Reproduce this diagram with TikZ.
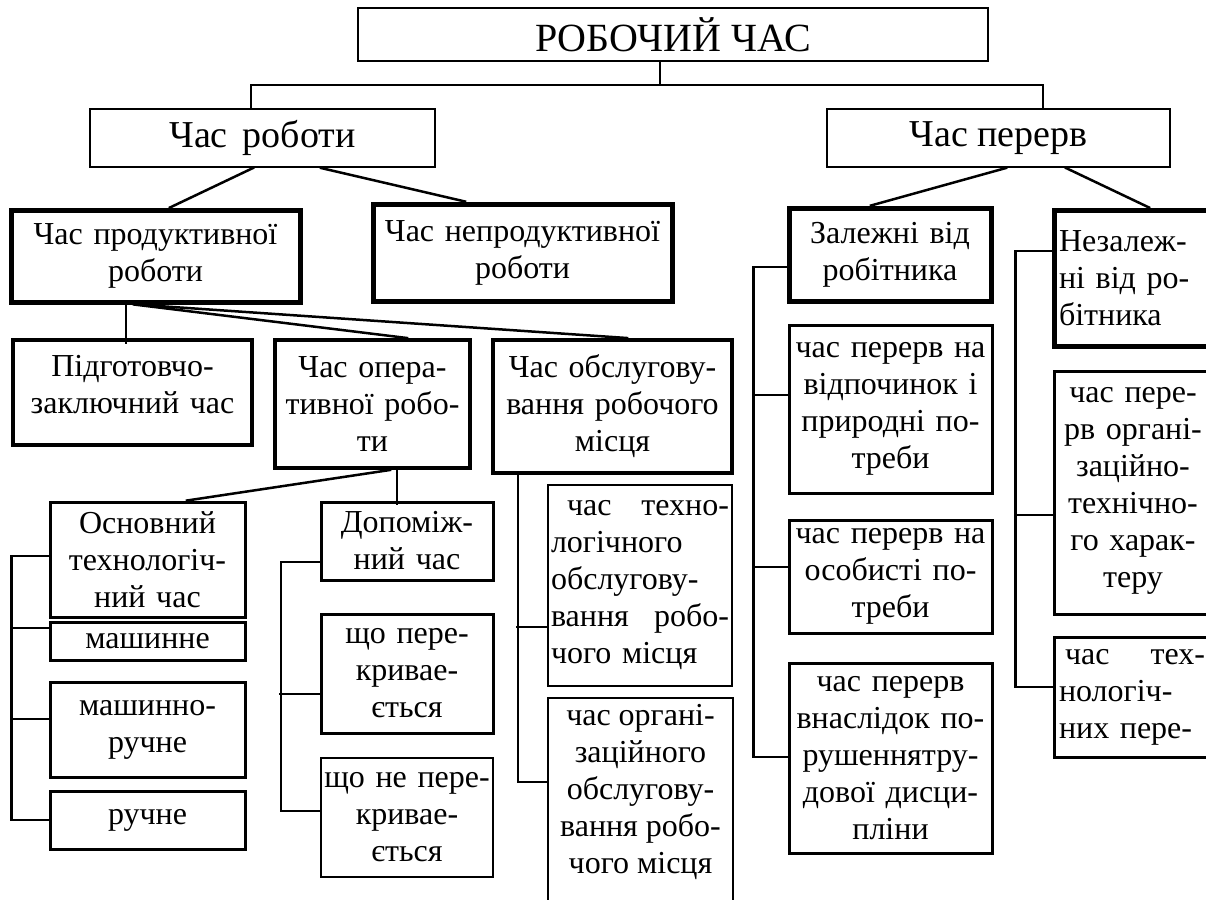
\documentclass[tikz,border=0pt]{standalone}
\usepackage{fontspec}
\setmainfont{Liberation Serif}
\begin{document}
\begin{tikzpicture}[x=1pt,y=-1pt,
  bx/.style={draw, rectangle, inner sep=0pt, align=center, line width=3pt,
    font=\fontsize{32}{37}\selectfont},
  lwa/.style={line width=2pt},
  lwd/.style={line width=4pt},
  lwe/.style={line width=5pt},
  big/.style={font=\fontsize{38}{44}\selectfont},
  bigger/.style={font=\fontsize{40}{46}\selectfont},
  conn/.style={line width=2.5pt, line cap=rect}]
\fill[white] (0,0) rectangle (1206,899);
\useasboundingbox (0,0) rectangle (1206,899);

% level 0-1
\node[bx,lwa,bigger,minimum width=630pt,minimum height=53pt] (top) at (673,34.5) {РОБОЧИЙ ЧАС};
\node[bx,lwa,big,minimum width=345pt,minimum height=58pt] (rob) at (262.5,138) {Час\hspace{0.4em}роботи};
\node[bx,lwa,big,minimum width=343pt,minimum height=58pt] (per) at (998.5,138) {Час перерв};

% level 2
\node[bx,lwe,minimum width=289pt,minimum height=92pt,text width=280pt] (prod) at (155.5,256) {Час продуктивної\\роботи};
\node[bx,lwe,minimum width=299pt,minimum height=97pt,text width=295pt] (neprod) at (522.5,252.5) {Час непродуктивної\\роботи};
\node[bx,lwe,minimum width=202pt,minimum height=93pt,text width=195pt] (zal) at (890,254.5) {Залежні від\\робітника};
\node[bx,lwe,align=left,minimum width=158pt,minimum height=136pt,text width=148pt] (nezal) at (1133,278) {Незалеж-\\ні від ро-\\бітника};

% level 3
\node[bx,lwd,minimum width=239pt,minimum height=105pt,text width=230pt] (pidg) at (132.5,392.5) {Підготовчо-\\заключний час\\[-20pt]\mbox{}};
\node[bx,lwd,minimum width=195pt,minimum height=128pt,text width=190pt] (oper) at (372.5,404) {Час опера-\\тивної робо-\\ти};
\node[bx,lwd,minimum width=239pt,minimum height=133pt,text width=232pt] (obsl) at (612.5,406.5) {Час обслугову-\\вання робочого\\місця};

% left column
\node[bx,minimum width=195pt,minimum height=115pt,text width=190pt] (osn) at (147.5,559.5) {Основний\\технологіч-\\ний час};
\node[bx,minimum width=195pt,minimum height=38pt,text width=190pt] (mash) at (147.5,641) {машинне};
\node[bx,minimum width=195pt,minimum height=95pt,text width=190pt] (mashr) at (147.5,729.5) {машинно-\\ручне};
\node[bx,minimum width=195pt,minimum height=58pt,text width=190pt] (ruch) at (147.5,820) {ручне};

% dop column
\node[bx,minimum width=172pt,minimum height=78pt,text width=168pt] (dop) at (407,541) {Допоміж-\\ний час};
\node[bx,minimum width=172pt,minimum height=119pt,text width=168pt] (perekr) at (407,673.5) {що пере-\\кривае-\\ється};
\node[bx,lwa,minimum width=172pt,minimum height=119pt,text width=170pt] (neperekr) at (407,817.5) {що не пере-\\кривае-\\ється};

% obsl column
\node[bx,lwa,align=left,minimum width=184pt,minimum height=201pt,text width=178pt] (tech) at (640,585.5)
  {\makebox[178pt]{\hspace*{16pt}час\hfill техно-}\\логічного\\обслугову-\\\makebox[178pt]{вання\hfill робо-}\\чого місця};
\node[draw,lwa,inner sep=0pt,anchor=north,font=\fontsize{32}{37}\selectfont] (org) at (640.5,697)
  {\parbox[c][230pt][t]{185pt}{\centering\vspace*{6pt}час органі-\\заційного\\обслугову-\\вання робо-\\чого місця}};

% zal column
\node[bx,minimum width=203pt,minimum height=168pt,text width=200pt] (vidp) at (890.5,409) {час перерв на\\відпочинок і\\природні по-\\треби};
\node[bx,minimum width=203pt,minimum height=113pt,text width=200pt] (osob) at (890.5,576.5) {час перерв на\\особисті по-\\треби};
\node[bx,minimum width=203pt,minimum height=190pt,text width=200pt] (porush) at (890.5,758) {час перерв\\внаслідок по-\\рушеннятру-\\дової дисци-\\пліни};

% nezal column
\node[bx,minimum width=158pt,minimum height=243pt,text width=150pt] (orgt) at (1133,492.5) {час пере-\\рв органі-\\заційно-\\технічно-\\го харак-\\теру\\[-26pt]\mbox{}};
\node[bx,align=left,minimum width=158pt,minimum height=120pt,text width=148pt] (techp) at (1133,697)
  {\makebox[146pt]{\hspace*{6pt}час\hfill тех-}\\нологіч-\\них пере-};

% connectors: top
\coordinate (jt) at (660,85);
\coordinate (jl) at (251,85);
\coordinate (jr) at (1043,85);
\draw[conn] ([xshift=-13pt]top.south) -- (jt);
\draw[conn] (rob.north -| jl) -- (jl) -- (jr) -- (per.north -| jr);

% from rob / per
\draw[conn] ([xshift=-9.5pt]rob.south) -- ([xshift=14.5pt]prod.north);
\draw[conn] ([xshift=58.5pt]rob.south) -- ([xshift=-57.5pt]neprod.north);
\draw[conn] ([xshift=7.5pt]per.south) -- ([xshift=-19pt]zal.north);
\draw[conn] ([xshift=67.5pt]per.south) -- ([xshift=16pt]nezal.north);

% from prod
\draw[conn] ([xshift=-29.5pt]prod.south) -- ++(0,38);
\draw[conn] ([xshift=-21.5pt]prod.south) -- ([xshift=34.5pt]oper.north);
\draw[conn] ([xshift=-19.5pt]prod.south) -- ([xshift=14.5pt]obsl.north);

% from oper
\draw[conn] ([xshift=17.5pt]oper.south) -- ([xshift=39.5pt]osn.north);
\draw[conn] ([xshift=24.5pt]oper.south) -- ++(0,34);

% osn column
\draw[conn] ([yshift=3.5pt]osn.west) -| ([xshift=-37pt]ruch.west) -- (ruch.west);
\draw[conn] ([yshift=13pt]mash.west) -- ++(-37,0);
\draw[conn] ([yshift=10.5pt]mashr.west) -- ++(-37,0);

% dop column
\draw[conn] ([yshift=-21pt]dop.west) -| ([xshift=-39pt,yshift=6.5pt]neperekr.west) -- ([yshift=6.5pt]neperekr.west);
\draw[conn] ([yshift=-20.5pt]perekr.west) -- ++(-39,0);

% obsl column
\coordinate (oc) at (518,0);
\draw[conn] (obsl.south -| oc) |- ([yshift=31pt]org.west);
\draw[conn] ([yshift=-41.5pt]tech.west) -- ++(-30,0);

% zal column
\draw[conn] ([yshift=-12.5pt]zal.west) -| ([xshift=-34pt,yshift=1pt]porush.west) -- ([yshift=1pt]porush.west);
\draw[conn] ([yshift=14pt]vidp.west) -- ++(-34,0);
\draw[conn] ([yshift=9.5pt]osob.west) -- ++(-34,0);

% nezal column
\draw[conn] ([yshift=27pt]nezal.west) -| ([xshift=-37pt,yshift=10pt]techp.west) -- ([yshift=10pt]techp.west);
\draw[conn] ([yshift=-22.5pt]orgt.west) -- ++(-37,0);
\end{tikzpicture}
\end{document}
